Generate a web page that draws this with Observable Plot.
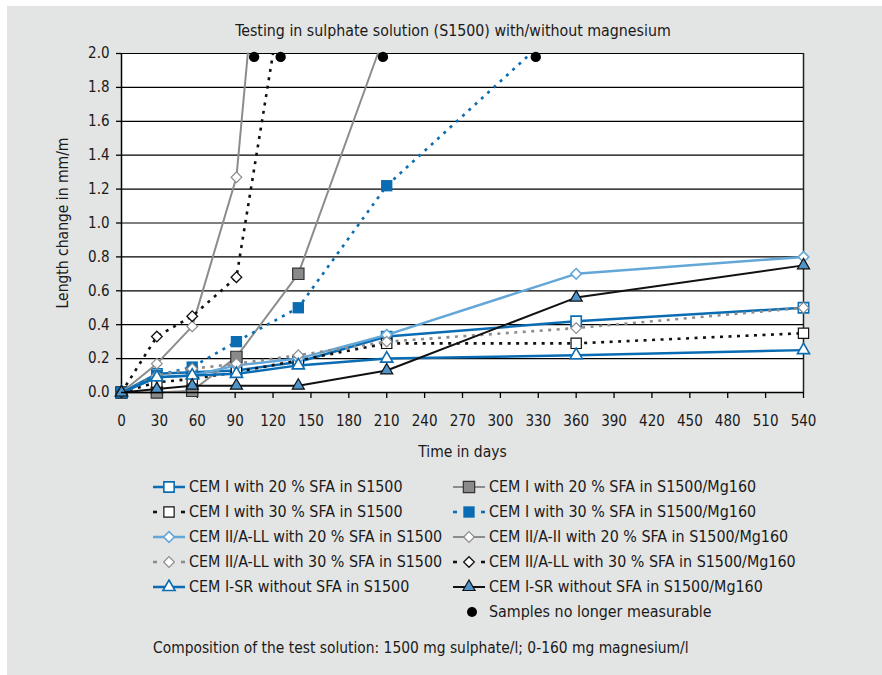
<!DOCTYPE html>
<html><head><meta charset="utf-8">
<script src="https://cdn.jsdelivr.net/npm/d3@7"></script>
<script src="https://cdn.jsdelivr.net/npm/@observablehq/plot@0.6"></script>
<style>
body{margin:0;background:#fff;width:882px;height:675px;position:relative;overflow:hidden;color:#1a1a1a}
#panel{position:absolute;left:7px;top:6px;width:875px;height:669px;background:#e3e4e4}
#chart{position:absolute;left:0;top:0}
#title{position:absolute;left:0;width:906px;top:21px;text-align:center;white-space:nowrap}
.row{position:absolute;height:20px;line-height:20px;white-space:nowrap;display:flex;align-items:center}
.row svg{margin-right:4px;flex:none}
#foot{position:absolute;left:153px;top:638px;line-height:20px;white-space:nowrap}
</style></head>
<body>
<div id="panel"></div>
<div id="title">Testing in sulphate solution (S1500) with/without magnesium</div>
<div id="chart"></div>
<div id="legend"></div>
<div id="foot">Composition of the test solution: 1500 mg sulphate/l; 0-160 mg magnesium/l</div>
<script>
// ---- data ----
const xTicks = [0,30,60,90,120,150,180,210,240,270,300,330,360,390,420,450,480,510,540];
const yTicks = [0,0.2,0.4,0.6,0.8,1.0,1.2,1.4,1.6,1.8,2.0];
const days = [0, 28, 56, 91, 140, 210, 360, 540];
// S1500 series (all ages)
const cemI20S   = [0, 0.11, 0.12, 0.13, 0.18, 0.33, 0.42, 0.50];
const cemI30S   = [0, 0.06, 0.08, 0.12, 0.19, 0.29, 0.29, 0.35];
const cemII20S  = [0, 0.09, 0.10, 0.16, 0.20, 0.34, 0.70, 0.80];
const cemII30S  = [0, 0.10, 0.14, 0.17, 0.22, 0.30, 0.38, 0.50];
const cemSRS    = [0, 0.09, 0.10, 0.11, 0.16, 0.20, 0.22, 0.25];
// S1500/Mg160 series (measured ages only)
const cemI20Mg  = [0, 0.00, 0.01, 0.21, 0.70];
const cemI30Mg  = [0, 0.10, 0.15, 0.30, 0.50, 1.22];
const cemII20Mg = [0, 0.17, 0.39, 1.27];
const cemII30Mg = [0, 0.33, 0.45, 0.68];
const cemSRMg   = [0, 0.02, 0.04, 0.04, 0.04, 0.13, 0.56, 0.75];
// day at which the failing series reach the 2.0 limit (F, G, H, I)
const limitDays = [203, 324, 100, 120];
const limitValue = 2.0;
// samples no longer measurable
const lostDays = [105, 126, 207, 328];
const lostValues = [1.98, 1.98, 1.98, 1.98];
const labels = [
  "CEM I with 20 % SFA in S1500",
  "CEM I with 20 % SFA in S1500/Mg160",
  "CEM I with 30 % SFA in S1500",
  "CEM I with 30 % SFA in S1500/Mg160",
  "CEM II/A-LL with 20 % SFA in S1500",
  "CEM II/A-II with 20 % SFA in S1500/Mg160",
  "CEM II/A-LL with 30 % SFA in S1500",
  "CEM II/A-LL with 30 % SFA in S1500/Mg160",
  "CEM I-SR without SFA in S1500",
  "CEM I-SR without SFA in S1500/Mg160",
  "Samples no longer measurable"
];

const FONT = "'DejaVu Sans Condensed', 'DejaVu Sans', sans-serif";
document.body.style.fontFamily = FONT;
document.getElementById('title').style.fontSize = "15.8px";
document.getElementById('foot').style.fontSize = "15.4px";

// ---- styles ----
const BLUE="#0a6db3", LBLUE="#63a6d8", GRAY="#8c8c8c", BLACK="#111", TRI="#4f95cb";
const DOT = "3,5.5";
const styles = [
  {line:BLUE,  w:2.5, dash:null, sym:"square",  r:5.8, fill:"white", stroke:BLUE, sw:1.6},      // A
  {line:GRAY,  w:2,   dash:null, sym:"square",  r:6.4, fill:"#8a8a8a", stroke:"#333", sw:1.2},  // F
  {line:BLACK, w:2.6, dash:DOT,  sym:"square",  r:5.8, fill:"white", stroke:BLACK, sw:1.2},     // B
  {line:BLUE,  w:2.6, dash:DOT,  sym:"square",  r:6.4, fill:BLUE, stroke:"none", sw:0},         // G
  {line:LBLUE, w:2.5, dash:null, sym:"diamond2",r:4.8, fill:"white", stroke:LBLUE, sw:1.6},     // C
  {line:GRAY,  w:2,   dash:null, sym:"diamond2",r:4.8, fill:"white", stroke:GRAY, sw:1.2},      // H
  {line:GRAY,  w:2.6, dash:DOT,  sym:"diamond2",r:4.8, fill:"white", stroke:GRAY, sw:1.2},      // D
  {line:BLACK, w:2.6, dash:DOT,  sym:"diamond2",r:4.8, fill:"white", stroke:BLACK, sw:1.3},     // I
  {line:BLUE,  w:2.5, dash:null, sym:"triangle",r:4.5, fill:"white", stroke:BLUE, sw:1.6},      // E
  {line:BLACK, w:2,   dash:null, sym:"triangle",r:4.5, fill:TRI, stroke:BLACK, sw:1.2}          // J
];

function series(xs, ys, st, endX){
  const lx = endX==null ? xs : [...xs, endX];
  const ly = endX==null ? ys : [...ys, limitValue];
  return [
    Plot.line(ly, {x: lx, y: ly, stroke: st.line, strokeWidth: st.w, strokeDasharray: st.dash, strokeLinecap: st.dash ? "butt":"round", strokeLinejoin:"round"}),
    Plot.dot(ys, {x: xs, y: ys, symbol: st.sym, r: st.r, fill: st.fill, stroke: st.stroke, strokeWidth: st.sw})
  ];
}
const d = n => days.slice(0, n);

const chart = Plot.plot({
  width: 882, height: 460,
  marginTop: 53, marginLeft: 121, marginRight: 79, marginBottom: 68,
  style: {fontFamily: FONT, fontSize: "15px", color: "#1a1a1a", background: "transparent", overflow:"visible"},
  x: {domain: [0, 540]},
  y: {domain: [0, 2]},
  marks: [
    Plot.frame({fill: "white", stroke: null}),
    Plot.gridY(yTicks, {stroke: "#000", strokeOpacity: 1, strokeWidth: 1.2}),
    Plot.ruleX([540], {stroke: "#222", strokeWidth: 1.5}),
    Plot.ruleX([0], {stroke: "#000", strokeWidth: 1.5}),
    Plot.axisX(xTicks, {tickSize: 6, tickPadding: 17, stroke:"#000", strokeWidth:1.3, fontSize: 15, label: "Time in days", labelAnchor: "center", labelArrow: "none", labelOffset: 64}),
    Plot.axisX([], {label: null}),
    Plot.axisY(yTicks, {tickSize: 5, tickPadding: 7, stroke:"#000", strokeWidth:1.3, fontSize: 15, tickFormat: v => v.toFixed(1), label: "Length change in mm/m", labelAnchor: "center", labelArrow: "none", labelOffset: 65}),
    ...series(days, cemI20S, styles[0]),
    ...series(d(5), cemI20Mg, styles[1], limitDays[0]),
    ...series(days, cemI30S, styles[2]),
    ...series(d(6), cemI30Mg, styles[3], limitDays[1]),
    ...series(days, cemII20S, styles[4]),
    ...series(d(4), cemII20Mg, styles[5], limitDays[2]),
    ...series(days, cemII30S, styles[6]),
    ...series(d(4), cemII30Mg, styles[7], limitDays[3]),
    ...series(days, cemSRS, styles[8]),
    ...series(days, cemSRMg, styles[9]),
    Plot.ruleY([0], {stroke: "#000", strokeWidth: 1.5}),
    Plot.dot(lostValues, {x: lostDays, y: lostValues, r: 5.2, fill: "#000"})
  ]
});
chart.querySelectorAll('[aria-label="x-axis label"] text, [aria-label="y-axis label"] text').forEach(t => t.setAttribute('font-size', '15.5'));
document.getElementById('chart').appendChild(chart);

// ---- legend ----
function symPath(sym, r){
  const map = {square: d3.symbolSquare, diamond2: d3.symbolDiamond2, triangle: d3.symbolTriangle, circle: d3.symbolCircle};
  return d3.symbol(map[sym], Math.PI*r*r)();
}
const leg = document.getElementById('legend');
labels.forEach((lab, i) => {
  const col = i % 2, rowi = Math.floor(i / 2);
  const div = document.createElement('div');
  div.className = 'row';
  div.style.fontSize = "15.9px";
  const left = col ? 453 : 153;
  div.style.left = (i===10 ? 453 : left) + "px";
  div.style.top = (477 + (i===10 ? 5 : rowi) * 25) + "px";
  let svg = `<svg width="32" height="16" viewBox="0 0 32 16">`;
  if (i === 10) {
    svg += `<circle cx="19" cy="8" r="5" fill="#000"/>`;
  } else {
    const st = styles[i];
    if (st.dash) {
      svg += `<line x1="0" x2="4" y1="8" y2="8" stroke="${st.line}" stroke-width="${st.w}"/><line x1="28" x2="32" y1="8" y2="8" stroke="${st.line}" stroke-width="${st.w}"/>`;
    } else {
      svg += `<line x1="0" x2="32" y1="8" y2="8" stroke="${st.line}" stroke-width="${st.w}"/>`;
    }
    svg += `<path transform="translate(16,8)" d="${symPath(st.sym, st.r)}" fill="${st.fill}" stroke="${st.stroke}" stroke-width="${st.sw}"/>`;
  }
  svg += `</svg>`;
  div.innerHTML = svg + `<span>${lab}</span>`;
  leg.appendChild(div);
});
</script>
</body></html>
